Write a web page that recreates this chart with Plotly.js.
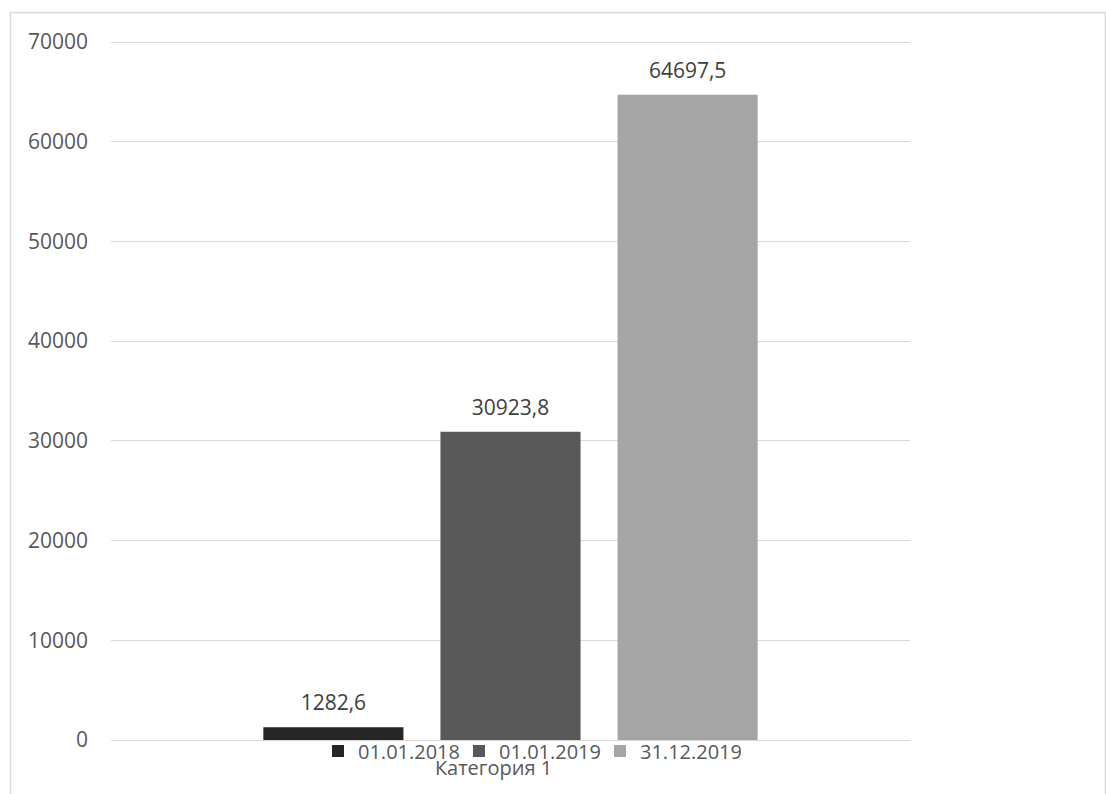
<!DOCTYPE html>
<html>
<head>
<meta charset="utf-8">
<script src="https://cdn.plot.ly/plotly-3.0.1.min.js"></script>
<style>html,body{margin:0;padding:0;background:#fff;}#chart{width:1106px;height:794px;}</style>
</head>
<body>
<div id="chart"></div>
<script>
var categories = ["Категория 1"];
var seriesNames = ["01.01.2018", "01.01.2019", "31.12.2019"];
var seriesValues = [[1282.6], [30923.8], [64697.5]];
var seriesColors = ["#262626", "#595959", "#a5a5a5"];
var yTickVals = [0, 10000, 20000, 30000, 40000, 50000, 60000, 70000];

var W = 1106, H = 794;
var L = 111, R = 910, T = 40, B = 740;
var pw = R - L, ph = B - T;
function px(x){ return (x - L) / pw; }
function py(y){ return (B - y) / ph; }

var traces = seriesNames.map(function(n, i){
  return {
    type: "bar",
    name: n,
    x: categories,
    y: seriesValues[i],
    marker: {color: seriesColors[i]},
    texttemplate: "%{y:.1f}",
    textposition: "outside",
    textfont: {family: "Open Sans", size: 21, color: "#404040"},
    cliponaxis: false,
    hoverinfo: "skip"
  };
});

var layout = {
  width: W, height: H,
  margin: {l: L, r: W - R, t: T, b: H - B, pad: 0},
  paper_bgcolor: "#ffffff",
  plot_bgcolor: "#ffffff",
  separators: ", ",
  font: {family: "Open Sans", size: 20, color: "#595959"},
  barmode: "group",
  bargap: 0.335,
  bargroupgap: 0.209,
  showlegend: true,
  legend: {
    orientation: "h",
    x: px(318), xanchor: "left",
    y: py(751), yanchor: "middle",
    font: {family: "Open Sans", size: 20, color: "#595959"},
    bgcolor: "rgba(0,0,0,0)",
    itemwidth: 30,
    entrywidth: 96,
    entrywidthmode: "pixels",
    tracegroupgap: 0
  },
  xaxis: {
    type: "category",
    showgrid: false,
    showline: true,
    linecolor: "#d9d9d9",
    linewidth: 1,
    ticks: "",
    ticklabelstandoff: 10,
    ticklabelshift: -17,
    tickfont: {family: "Open Sans", size: 20, color: "#595959"},
    fixedrange: true
  },
  yaxis: {
    range: [0, 70000 * ph / 698],
    tickvals: yTickVals,
    tickformat: "d",
    showgrid: true,
    gridcolor: "#d9d9d9",
    gridwidth: 1,
    zeroline: false,
    showline: false,
    ticks: "",
    ticklabelstandoff: 22,
    tickfont: {family: "Open Sans", size: 21, color: "#595959"},
    fixedrange: true
  },
  shapes: [{
    type: "rect", xref: "paper", yref: "paper",
    x0: px(10.5), x1: px(1105.5), y0: py(820), y1: py(12.5),
    line: {color: "#d9d9d9", width: 1.5},
    fillcolor: "rgba(0,0,0,0)",
    layer: "below"
  }]
};

Plotly.newPlot("chart", traces, layout, {displayModeBar: false, staticPlot: true}).then(function(gd){
  // lift the outside data labels a little, as in the reference
  var labels = gd.querySelectorAll("text.bartext");
  labels.forEach(function(el){
    var t = el.getAttribute("transform") || "";
    el.setAttribute("transform", "translate(0,-8) " + t);
  });
});
</script>
</body>
</html>
